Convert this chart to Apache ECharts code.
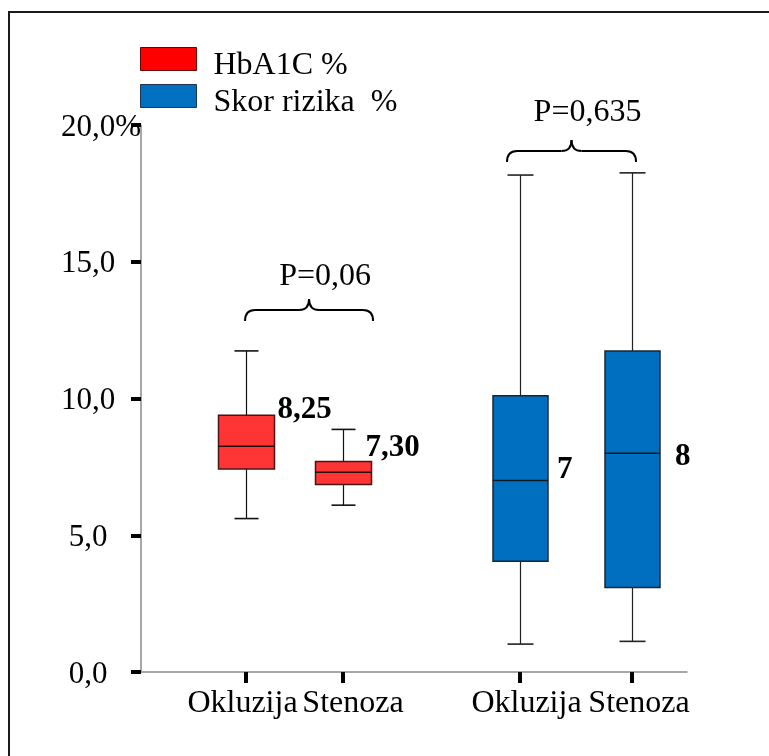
<!DOCTYPE html>
<html>
<head>
<meta charset="utf-8">
<script src="https://cdn.jsdelivr.net/npm/echarts@6/dist/echarts.min.js"></script>
<style>
  html, body { margin: 0; padding: 0; background: #ffffff; }
  #chart { width: 769px; height: 756px; }
</style>
</head>
<body>
<div id="chart"></div>
<script>
// ---- data ----
const groups = ['Okluzija', 'Stenoza'];
const seriesNames = ['HbA1C %', 'Skor rizika  %'];

const hbaMin    = [5.61, 6.10];
const hbaQ1     = [7.42, 6.86];
const hbaMedian = [8.25, 7.30];
const hbaQ3     = [9.39, 7.70];
const hbaMax    = [11.74, 8.87];

const skorMin    = [1.02, 1.12];
const skorQ1     = [4.05, 3.09];
const skorMedian = [7, 8];
const skorQ3     = [10.10, 11.74];
const skorMax    = [18.17, 18.25];

const pLabels = ['P=0,06', 'P=0,635'];
const yTickLabels = ['0,0', '5,0', '10,0', '15,0', '20,0%'];

// ---- styling ----
const FONT = '"Liberation Serif", "Times New Roman", serif';
const AXIS_GRAY = '#8a8a8a';
const GRID_TOP = 125, GRID_H = 547;

function boxRows(mins, q1s, meds, q3s, maxs) {
  return groups.map((g, i) => [i, mins[i], q1s[i], meds[i], q3s[i], maxs[i]]);
}

// Draws one box-and-whisker with its median label beside it
function makeBoxRenderer(look, nudges, fmt) {
  return function (params, api) {
    const i = api.value(0);
    const lo = api.coord([i, api.value(1)]);
    const q1 = api.coord([i, api.value(2)]);
    const md = api.coord([i, api.value(3)]);
    const q3 = api.coord([i, api.value(4)]);
    const hi = api.coord([i, api.value(5)]);
    const cx = Math.round(md[0]) + 0.5;
    const hw = look.boxWidth / 2, cw = look.capWidth / 2;
    const line = (x1, y1, x2, y2, stroke, w) =>
      ({ type: 'line', shape: { x1, y1, x2, y2 }, style: { stroke, lineWidth: w } });
    const n = nudges[params.dataIndex];
    return {
      type: 'group',
      children: [
        line(cx, hi[1], cx, q3[1], look.whisker, 1.2),
        line(cx, q1[1], cx, lo[1], look.whisker, 1.2),
        line(cx - cw, hi[1], cx + cw, hi[1], look.whisker, 1.6),
        line(cx - cw, lo[1], cx + cw, lo[1], look.whisker, 1.6),
        { type: 'rect',
          shape: { x: cx - hw, y: q3[1], width: 2 * hw, height: q1[1] - q3[1] },
          style: { fill: look.fill, stroke: look.border, lineWidth: 1.5 } },
        line(cx - hw, md[1], cx + hw, md[1], look.medianColor, 1.5),
        { type: 'text', x: cx + hw + n[0], y: md[1] + n[1],
          style: { text: fmt(api.value(3)), fill: '#000', font: 'bold 31px ' + FONT,
                   align: 'left', verticalAlign: 'middle' } }
      ]
    };
  };
}

const hbaLook  = { fill: '#FF3535', border: '#4a1414', whisker: '#111', medianColor: '#2a0a0a', boxWidth: 56, capWidth: 24,
                   key: '#FF0000', keyBorder: '#6e0000' };
const skorLook = { fill: '#006FC0', border: '#1a2430', whisker: '#222', medianColor: '#101820', boxWidth: 55, capWidth: 26,
                   key: '#0070C0', keyBorder: '#1d3550' };

// label offsets: [dx from box right edge, dy from median]
const hbaNudge  = [[3, -36], [-6, -24]];
const skorNudge = [[9, -11], [15, 4]];

function catAxis(gridIndex, pads) {
  const rich = {};
  pads.forEach((p, i) => { rich['n' + i] = { fontFamily: FONT, fontSize: 32, color: '#000', padding: p }; });
  return {
    type: 'category', gridIndex, data: groups,
    axisLine: { show: false },
    axisTick: { show: true, alignWithLabel: true, length: 11, lineStyle: { color: '#000', width: 4 } },
    axisLabel: { show: true, margin: 16, formatter: (v, i) => '{n' + i + '|' + v + '}', rich }
  };
}

const chart = echarts.init(document.getElementById('chart'), null, { renderer: 'canvas' });

const option = {
  animation: false,
  backgroundColor: '#ffffff',
  grid: [
    { left: 141, top: GRID_TOP, width: 546, height: GRID_H },
    { left: 197.5, top: GRID_TOP, width: 194, height: GRID_H },
    { left: 464, top: GRID_TOP, width: 224, height: GRID_H }
  ],
  xAxis: [
    { type: 'value', gridIndex: 0, min: 0, max: 1,
      axisLine: { show: true, lineStyle: { color: AXIS_GRAY, width: 1.5 } },
      axisTick: { show: false }, axisLabel: { show: false }, splitLine: { show: false } },
    catAxis(1, [[0, 7, 0, 0], [0, 0, 0, 20]]),
    catAxis(2, [[0, 0, 0, 13], [0, 0, 0, 14]])
  ],
  yAxis: [
    { type: 'value', gridIndex: 0, min: 0, max: 20, interval: 5,
      axisLine: { show: true, lineStyle: { color: AXIS_GRAY, width: 1.5 } },
      axisTick: { show: true, length: 10, lineStyle: { color: '#000', width: 4 } },
      splitLine: { show: false },
      axisLabel: {
        margin: 53, align: 'center', padding: [5, 0, 0, 0],
        fontFamily: FONT, fontSize: 31, color: '#000',
        formatter: v => {
          const s = yTickLabels[Math.round(v / 5)];
          return s.endsWith('%') ? '{pct|' + s + '}' : s;
        },
        rich: { pct: { width: 54, align: 'left', fontFamily: FONT, fontSize: 31, color: '#000' } }
      } },
    { type: 'value', gridIndex: 1, min: 0, max: 20, show: false },
    { type: 'value', gridIndex: 2, min: 0, max: 20, show: false }
  ],
  series: [
    { type: 'custom', name: seriesNames[0], xAxisIndex: 1, yAxisIndex: 1,
      itemStyle: { color: hbaLook.key },
      encode: { x: 0, y: [1, 2, 3, 4, 5] },
      data: boxRows(hbaMin, hbaQ1, hbaMedian, hbaQ3, hbaMax),
      renderItem: makeBoxRenderer(hbaLook, hbaNudge, v => v.toFixed(2).replace('.', ',')) },
    { type: 'custom', name: seriesNames[1], xAxisIndex: 2, yAxisIndex: 2,
      itemStyle: { color: skorLook.key },
      encode: { x: 0, y: [1, 2, 3, 4, 5] },
      data: boxRows(skorMin, skorQ1, skorMedian, skorQ3, skorMax),
      renderItem: makeBoxRenderer(skorLook, skorNudge, v => String(v)) }
  ]
};
chart.setOption(option);

const graphics = [
  // outer frame
  { type: 'rect', shape: { x: 9, y: 12, width: 800, height: 800 },
    style: { fill: 'none', stroke: '#1a1a1a', lineWidth: 2 }, silent: true }
];

// ---- key: colour swatch + series name, one row per series ----
const KEY_LEFT = 140.5, KEY_TOP = 47.5, KEY_ROW = 37, KEY_W = 56, KEY_H = 23;
[hbaLook, skorLook].forEach((look, i) => {
  const y = KEY_TOP + i * KEY_ROW;
  graphics.push({ type: 'rect', shape: { x: KEY_LEFT, y, width: KEY_W, height: KEY_H },
    style: { fill: look.key, stroke: look.keyBorder, lineWidth: 1 }, silent: true });
  graphics.push({ type: 'text', x: KEY_LEFT + KEY_W + 17, y: y + KEY_H / 2 + 6.5,
    style: { text: seriesNames[i], font: '32px ' + FONT, fill: '#000', align: 'left', verticalAlign: 'middle' },
    silent: true });
});

// ---- significance braces above each pair ----
// from / to are measured in category steps from the first box of the pair
const braces = [
  { axis: 1, from: -0.01, to: 1.31, level: 12.83, text: pLabels[0], lift: 12 },
  { axis: 2, from: -0.116, to: 1.036, level: 18.65, text: pLabels[1], lift: 17 }
];
const HOOK = 11, PEAK = 11, R = 10;
const braceStroke = { fill: 'none', stroke: '#000', lineWidth: 2 };
braces.forEach(b => {
  const finder = { xAxisIndex: b.axis, yAxisIndex: b.axis };
  const c0 = chart.convertToPixel(finder, [0, b.level]);
  const c1 = chart.convertToPixel(finder, [1, b.level]);
  const step = c1[0] - c0[0];
  const x0 = c0[0] + b.from * step, x1 = c0[0] + b.to * step, yEnd = c0[1];
  const yH = yEnd - HOOK, yP = yH - PEAK, xc = (x0 + x1) / 2;
  const curve = (ax, ay, bx, by, cx, cy) =>
    ({ type: 'bezierCurve', shape: { x1: ax, y1: ay, x2: bx, y2: by, cpx1: cx, cpy1: cy }, style: braceStroke });
  const seg = (ax, bx) => ({ type: 'line', shape: { x1: ax, y1: yH, x2: bx, y2: yH }, style: braceStroke });
  graphics.push({
    type: 'group', silent: true,
    children: [
      curve(x0, yEnd, x0 + R, yH, x0, yH),
      seg(x0 + R, xc - R),
      curve(xc - R, yH, xc, yP, xc, yH),
      curve(xc, yP, xc + R, yH, xc, yH),
      seg(xc + R, x1 - R),
      curve(x1 - R, yH, x1, yEnd, x1, yH)
    ]
  });
  graphics.push({ type: 'text', x: xc + 16, y: yP - b.lift - 10.5,
    style: { text: b.text, font: '32px ' + FONT, fill: '#000', align: 'center', verticalAlign: 'middle' },
    silent: true });
});
chart.setOption({ graphic: graphics });
</script>
</body>
</html>
